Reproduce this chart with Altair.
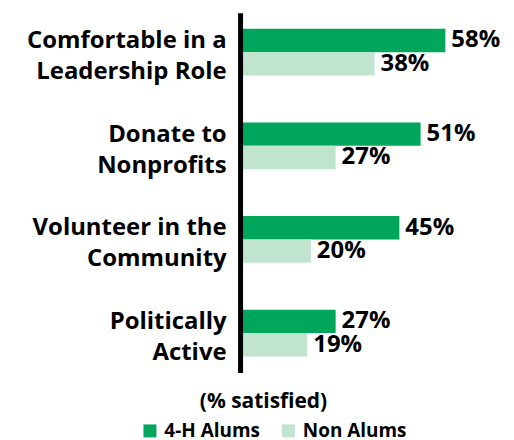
import altair as alt
import pandas as pd

categories = ["Comfortable in a|Leadership Role", "Donate to|Nonprofits",
              "Volunteer in the|Community", "Politically|Active"]
series = ["4-H Alums", "Non Alums"]
alums = [58, 51, 45, 27]
non_alums = [38, 27, 20, 19]
colors = ["#00A65A", "#C1E4CF"]

rows = []
for c, a, n in zip(categories, alums, non_alums):
    rows.append({"category": c, "group": series[0], "value": a})
    rows.append({"category": c, "group": series[1], "value": n})
df = pd.DataFrame(rows)
df["label"] = df["value"].astype(str) + "%"

FONT = "Open Sans"

y = alt.Y(
    "category:N", sort=categories,
    scale=alt.Scale(paddingInner=0.5, paddingOuter=0.17),
    axis=alt.Axis(title=None, labelExpr="split(datum.label, '|')", labelFont=FONT,
                  labelFontSize=24, labelFontWeight="bold", labelColor="black",
                  labelLineHeight=31, labelPadding=14, labelOffset=-11, ticks=False,
                  domainColor="black", domainWidth=5, zindex=1, labelLimit=400),
)
x = alt.X(
    "value:Q", scale=alt.Scale(domain=[0, 65], nice=False),
    axis=alt.Axis(title="(% satisfied)", labels=False, ticks=False, domain=False, grid=False,
                  titleFont=FONT, titleFontSize=21, titleFontWeight="bold", titleColor="black",
                  titleX=23, titleY=35, titleAlign="center", titleBaseline="alphabetic"),
)
yoff = alt.YOffset("group:N", sort=series, scale=alt.Scale(domain=series))

base = alt.Chart(df)
bars = base.mark_bar().encode(
    x=x, y=y, yOffset=yoff,
    color=alt.Color("group:N", scale=alt.Scale(domain=series, range=colors),
                    legend=alt.Legend(orient="none", legendX=-100, legendY=410,
                                      direction="horizontal", title=None, symbolType="square",
                                      symbolSize=169, labelFont=FONT, labelFontSize=19,
                                      labelFontWeight="bold", labelColor="black",
                                      columnPadding=19, padding=0, symbolStrokeWidth=0,
                                      labelOffset=5)),
)
text = base.mark_text(align="left", baseline="middle", dx=6, font=FONT, fontSize=24,
                      fontWeight="bold", color="black").encode(
    x="value:Q", y=alt.Y("category:N", sort=categories), yOffset=yoff, text="label:N")

chart = (bars + text).properties(
    width=231, height=361,
    padding={"left": 18, "top": 4, "right": 5, "bottom": 0},
).configure_view(stroke=None)

chart.save("out.html", embed_options={"renderer": "svg", "actions": False})
